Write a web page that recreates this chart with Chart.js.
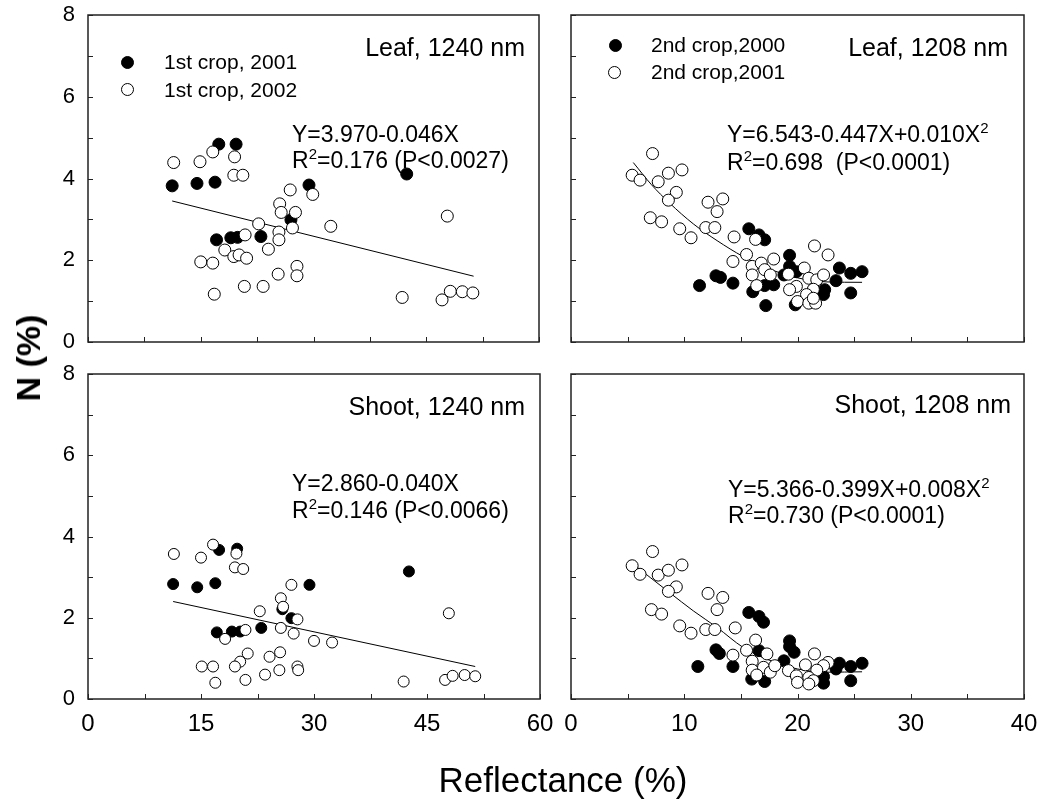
<!DOCTYPE html>
<html>
<head>
<meta charset="utf-8">
<script src="https://cdn.jsdelivr.net/npm/chart.js@4.4.0/dist/chart.umd.min.js"></script>
<style>
  body { margin: 0; width: 1043px; height: 805px; position: relative; overflow: hidden; background: #fff;
         font-family: Arial, "Liberation Sans", sans-serif; color: #000; }
  canvas { position: absolute; }
  .t { position: absolute; white-space: nowrap; line-height: 1; }
  .r { text-align: right; }
  .lab { font-size: 25px; }
  .eq { font-size: 23px; }
  .eq sup { font-size: 15px; vertical-align: 0; position: relative; top: -9px; }
  .leg { font-size: 21px; }
  .dot { position: absolute; width: 13px; height: 13px; border-radius: 50%; box-sizing: border-box; border: 1.3px solid #000; }
  .dot.fill { background: #000; }
  .dot.open { background: #fff; }
</style>
</head>
<body>
<canvas id="tl" width="529" height="387" style="left:40px;top:-15px"></canvas>
<canvas id="tr" width="508" height="387" style="left:546px;top:-15px"></canvas>
<canvas id="bl" width="530" height="425" style="left:40px;top:344px"></canvas>
<canvas id="br" width="508" height="425" style="left:546px;top:344px"></canvas>

<!-- panel labels -->
<div class="t lab r" style="right:518px;top:35px">Leaf, 1240 nm</div>
<div class="t lab r" style="right:35px;top:35px">Leaf, 1208 nm</div>
<div class="t lab r" style="right:518px;top:394px">Shoot, 1240 nm</div>
<div class="t lab r" style="right:32px;top:392px">Shoot, 1208 nm</div>

<!-- equations -->
<div class="t eq" style="left:292px;top:123px">Y=3.970-0.046X</div>
<div class="t eq" style="left:292px;top:149px">R<sup>2</sup>=0.176 (P&lt;0.0027)</div>
<div class="t eq" style="left:727px;top:123px">Y=6.543-0.447X+0.010X<sup>2</sup></div>
<div class="t eq" style="left:727px;top:151px">R<sup>2</sup>=0.698&nbsp; (P&lt;0.0001)</div>
<div class="t eq" style="left:292px;top:472px">Y=2.860-0.040X</div>
<div class="t eq" style="left:292px;top:499px">R<sup>2</sup>=0.146 (P&lt;0.0066)</div>
<div class="t eq" style="left:728px;top:478px">Y=5.366-0.399X+0.008X<sup>2</sup></div>
<div class="t eq" style="left:728px;top:504px">R<sup>2</sup>=0.730 (P&lt;0.0001)</div>

<!-- legends -->
<div class="dot fill" style="left:121px;top:56px"></div>
<div class="t leg" style="left:164px;top:51px">1st crop, 2001</div>
<div class="dot open" style="left:121px;top:83px"></div>
<div class="t leg" style="left:164px;top:79px">1st crop, 2002</div>
<div class="dot fill" style="left:609px;top:39px"></div>
<div class="t leg" style="left:651px;top:34px">2nd crop,2000</div>
<div class="dot open" style="left:608px;top:66px"></div>
<div class="t leg" style="left:651px;top:61px">2nd crop,2001</div>

<!-- axis titles -->
<div class="t" style="left:28px;top:358px;font-size:34px;font-weight:bold;transform:translate(-50%,-50%) rotate(-90deg)">N (%)</div>
<div class="t" style="left:563px;top:762px;font-size:35px;transform:translateX(-50%)">Reflectance (%)</div>

<script>
// Leaf, 1240 nm
const leaf1240Crop2001 = [[11.2,3.82],[14.5,3.88],[16.9,3.91],[17.4,4.84],[19.7,4.84],[17.1,2.50],[19.0,2.55],[19.9,2.56],
  [23.0,2.58],[27.0,2.99],[29.4,3.84],[42.4,4.11]];
const leaf1240Crop2002 = [[11.4,4.39],[14.9,4.41],[16.6,4.65],[19.5,4.53],[19.4,4.08],[20.6,4.08],[26.9,3.72],[29.9,3.61],
  [25.5,3.38],[25.7,3.17],[27.6,3.17],[22.7,2.89],[27.2,2.79],[32.3,2.83],[25.4,2.69],[20.9,2.62],[25.4,2.50],[18.2,2.25],
  [24.0,2.27],[19.4,2.09],[20.1,2.13],[21.1,2.05],[15.0,1.96],[16.6,1.93],[27.8,1.85],[27.8,1.62],[25.3,1.66],[20.8,1.36],
  [23.3,1.36],[16.8,1.17],[41.8,1.09],[47.8,3.08],[47.1,1.03],[48.2,1.24],[49.8,1.23],[51.2,1.20]];
const leaf1240Fit = [[11.2,3.45],[51.3,1.61]];

// Leaf, 1208 nm
const leaf1208Crop2000 = [[11.35,1.38],[12.8,1.62],[13.2,1.58],[14.3,1.44],[15.7,2.77],[16.6,2.62],[17.1,2.50],[16.05,1.23],
  [17.2,0.89],[17.1,1.38],[17.9,1.40],[18.8,1.64],[19.3,2.12],[19.3,1.85],[19.9,1.72],[19.8,0.91],[22.3,1.16],[22.4,1.28],
  [23.4,1.50],[23.7,1.81],[24.7,1.68],[24.7,1.20],[25.7,1.72]];
const leaf1208Crop2001 = [[7.2,4.61],[5.4,4.08],[6.1,3.96],[7.7,3.92],[8.6,4.13],[9.8,4.21],[9.3,3.66],[8.6,3.47],[7.0,3.04],
  [8.0,2.94],[9.6,2.77],[10.6,2.55],[12.1,3.42],[13.4,3.50],[12.9,3.19],[11.9,2.80],[12.7,2.80],[14.4,2.57],[16.3,2.51],
  [15.5,2.14],[14.3,1.97],[16.0,1.85],[16.0,1.64],[16.8,1.93],[17.9,2.03],[17.1,1.77],[17.6,1.64],[16.4,1.38],[19.2,1.66],
  [20.6,1.81],[19.9,1.36],[19.3,1.28],[21.0,1.56],[21.7,1.52],[21.5,2.35],[22.7,2.13],[22.3,1.64],[21.4,1.29],[20.8,1.16],
  [20.0,0.99],[21.0,0.95],[21.6,0.95],[21.4,1.07]];
const leaf1208Fit = [[5.5,4.39],[7.1,3.85],[8.7,3.40],[10.8,2.89],[12.9,2.48],[15.2,2.09],[17.3,1.81],[20.0,1.57],
  [22.6,1.47],[25.7,1.46]];

// Shoot, 1240 nm
const shoot1240Crop2001 = [[11.3,2.83],[14.5,2.75],[16.9,2.85],[17.4,3.67],[19.8,3.70],[17.1,1.64],[19.1,1.66],[20.2,1.66],
  [23.0,1.75],[25.8,2.21],[27.0,1.99],[29.4,2.81],[42.6,3.14]];
const shoot1240Crop2002 = [[11.4,3.57],[15.0,3.48],[16.6,3.80],[19.7,3.58],[19.5,3.24],[20.6,3.20],[27.0,2.81],[25.6,2.48],
  [25.9,2.27],[22.8,2.16],[27.8,1.96],[25.6,1.75],[20.9,1.70],[27.3,1.61],[18.2,1.48],[30.0,1.43],[32.4,1.39],[21.2,1.12],
  [20.2,0.92],[19.5,0.80],[24.1,1.04],[25.5,1.15],[15.1,0.80],[16.6,0.80],[27.8,0.80],[27.9,0.71],[25.4,0.71],[23.5,0.60],
  [20.9,0.47],[16.9,0.40],[41.9,0.43],[47.9,2.11],[47.4,0.47],[48.4,0.57],[50.0,0.59],[51.4,0.56]];
const shoot1240Fit = [[11.3,2.40],[51.4,0.80]];

// Shoot, 1208 nm
const shoot1208Crop2000 = [[11.2,0.80],[12.8,1.21],[13.1,1.12],[14.3,0.80],[15.7,2.13],[16.6,2.03],[17.0,1.89],[16.6,1.19],
  [15.96,0.49],[17.1,0.43],[18.8,0.94],[19.3,1.43],[19.3,1.29],[19.7,1.15],[22.3,0.39],[22.3,0.55],[23.4,0.74],[23.7,0.88],
  [24.7,0.80],[24.7,0.45],[25.7,0.88]];
const shoot1208Crop2001 = [[7.2,3.63],[5.4,3.28],[6.1,3.07],[7.7,3.05],[8.6,3.17],[9.8,3.30],[9.3,2.76],[8.6,2.65],[7.1,2.20],
  [8.0,2.09],[9.6,1.80],[10.6,1.62],[12.1,2.60],[13.4,2.50],[12.9,2.20],[11.9,1.71],[12.7,1.71],[14.5,1.75],[16.3,1.45],
  [15.5,1.20],[14.3,1.08],[16.0,0.93],[16.0,0.71],[17.3,1.11],[17.0,0.78],[17.6,0.66],[16.4,0.59],[18.0,0.82],[19.2,0.70],
  [20.7,0.84],[21.5,1.11],[22.7,0.90],[22.3,0.82],[21.7,0.71],[19.9,0.57],[21.0,0.53],[21.4,0.45],[20.0,0.41],[21.0,0.37]];
const shoot1208Fit = [[5.4,3.34],[7.0,2.99],[8.7,2.62],[10.8,2.17],[12.9,1.76],[15.2,1.27],[17.3,0.98],[20.0,0.74],
  [22.6,0.66],[25.7,0.67]];

const toXY = (arr) => arr.map(([x, y]) => ({ x, y }));

// box around the plot area plus inward tick marks
const framePlugin = {
  id: "frame",
  afterDraw(chart) {
    const { ctx, chartArea: a, scales } = chart;
    ctx.save();
    ctx.strokeStyle = "#222";
    ctx.lineWidth = 1.5;
    ctx.strokeRect(a.left, a.top, a.right - a.left, a.bottom - a.top);
    ctx.lineWidth = 1;
    ctx.beginPath();
    scales.y.ticks.forEach((t) => {
      const py = Math.round(scales.y.getPixelForValue(t.value)) + 0.5;
      ctx.moveTo(a.left, py);
      ctx.lineTo(a.left + 5, py);
    });
    scales.x.ticks.forEach((t) => {
      const px = Math.round(scales.x.getPixelForValue(t.value)) + 0.5;
      ctx.moveTo(px, a.bottom);
      ctx.lineTo(px, a.bottom - 5);
    });
    ctx.stroke();
    ctx.restore();
  },
};

function makePanel(id, opt) {
  const ctx = document.getElementById(id).getContext("2d");
  return new Chart(ctx, {
    type: "scatter",
    data: {
      datasets: [
        {
          label: opt.openLabel,
          data: toXY(opt.open),
          backgroundColor: "#fff",
          borderColor: "#000",
          borderWidth: 1,
          pointRadius: opt.r,
        },
        {
          label: opt.fillLabel,
          data: toXY(opt.fill),
          backgroundColor: "#000",
          borderColor: "#000",
          borderWidth: 1,
          pointRadius: opt.r,
        },
        {
          label: "fit",
          data: toXY(opt.fit),
          showLine: true,
          borderColor: "#000",
          borderWidth: 1,
          pointRadius: 0,
          cubicInterpolationMode: "monotone",
        },
      ],
    },
    options: {
      responsive: false,
      animation: false,
      events: [],
      layout: { padding: { top: 30, right: 30, left: 0, bottom: 0 } },
      plugins: { legend: { display: false }, tooltip: { enabled: false } },
      scales: {
        x: {
          type: "linear",
          min: 0,
          max: opt.xMax,
          grid: { display: false, drawTicks: false },
          border: { display: false },
          ticks: {
            display: opt.showX,
            stepSize: opt.xStep,
            autoSkip: false,
            maxRotation: 0,
            padding: 11,
            color: "#000",
            font: { family: "Arial, 'Liberation Sans', sans-serif", size: 24 },
            callback: (v) => (v % (opt.xStep * 2) === 0 ? v : ""),
          },
          afterFit: (s) => { s.height = opt.xH; },
        },
        y: {
          type: "linear",
          min: 0,
          max: 8,
          grid: { display: false, drawTicks: false },
          border: { display: false },
          ticks: {
            display: opt.showY,
            stepSize: 1,
            autoSkip: false,
            padding: 13,
            color: "#000",
            font: { family: "Arial, 'Liberation Sans', sans-serif", size: 22 },
            callback: (v) => (v % 2 === 0 ? v : ""),
          },
          afterFit: (s) => { s.width = opt.yW; },
        },
      },
    },
    plugins: [framePlugin],
  });
}

makePanel("tl", {
  fill: leaf1240Crop2001, open: leaf1240Crop2002, fit: leaf1240Fit,
  fillLabel: "1st crop, 2001", openLabel: "1st crop, 2002",
  xMax: 60, xStep: 7.5, showX: false, showY: true, r: 6, xH: 30, yW: 48,
});
makePanel("tr", {
  fill: leaf1208Crop2000, open: leaf1208Crop2001, fit: leaf1208Fit,
  fillLabel: "2nd crop,2000", openLabel: "2nd crop,2001",
  xMax: 40, xStep: 5, showX: false, showY: false, r: 6, xH: 30, yW: 25,
});
makePanel("bl", {
  fill: shoot1240Crop2001, open: shoot1240Crop2002, fit: shoot1240Fit,
  fillLabel: "1st crop, 2001", openLabel: "1st crop, 2002",
  xMax: 60, xStep: 7.5, showX: true, showY: true, r: 5.5, xH: 70, yW: 48,
});
makePanel("br", {
  fill: shoot1208Crop2000, open: shoot1208Crop2001, fit: shoot1208Fit,
  fillLabel: "2nd crop,2000", openLabel: "2nd crop,2001",
  xMax: 40, xStep: 5, showX: true, showY: false, r: 6, xH: 70, yW: 25,
});
</script>
</body>
</html>
